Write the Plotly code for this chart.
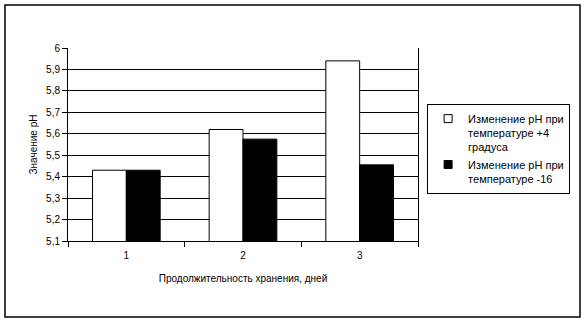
import plotly.graph_objects as go

categories = ["1", "2", "3"]
ph_plus4 = [5.43, 5.62, 5.94]
ph_minus16 = [5.43, 5.575, 5.455]
series_names = ["Изменение pH при<br>температуре +4<br>градуса", "Изменение pH при<br>температуре -16"]
series_fill = ["white", "black"]
x_title = "Продолжительность хранения, дней"
y_title = "Значение pH"

FONT = "Liberation Sans, Arial, sans-serif"

fig = go.Figure()
for vals, fill in zip([ph_plus4, ph_minus16], series_fill):
    fig.add_trace(go.Bar(x=categories, y=vals, showlegend=False,
                         marker=dict(color=fill, line=dict(color="black", width=1))))
for name, fill in zip(series_names, series_fill):
    fig.add_trace(go.Scatter(x=[None], y=[None], mode="markers", name=name,
                             marker=dict(symbol="square", size=8, color=fill,
                                         line=dict(color="black", width=1))))

fig.update_layout(
    width=586, height=321,
    margin=dict(l=68, r=168, t=48, b=80),
    paper_bgcolor="white", plot_bgcolor="white",
    separators=", ",
    font=dict(family=FONT, size=10, color="black"),
    barmode="group", bargap=0.42, bargroupgap=0,
    showlegend=True,
    legend=dict(x=1.026, y=0.71, xanchor="left", yanchor="top", valign="top",
                bordercolor="black", borderwidth=1, bgcolor="white",
                font=dict(family=FONT, size=11, color="black"),
                tracegroupgap=0, itemwidth=30),
    xaxis=dict(type="category", showline=True, linecolor="black", linewidth=1,
               ticks="outside", tickson="boundaries", ticklen=5, tickcolor="black",
               showgrid=False, ticklabelstandoff=5,
               title=dict(text=x_title, font=dict(size=10), standoff=14)),
    yaxis=dict(range=[5.1, 6.0], dtick=0.1, tick0=5.1, showline=True, linecolor="black",
               linewidth=1, mirror=True, ticks="outside", ticklen=5, tickcolor="black",
               showgrid=True, gridcolor="black", gridwidth=1, zeroline=False,
               title=dict(text=y_title, font=dict(size=10), standoff=6)),
    shapes=[dict(type="rect", xref="paper", yref="paper",
                 x0=(5 - 68) / 350, x1=(580 - 68) / 350,
                 y0=(241 - 317) / 193, y1=(241 - 5) / 193,
                 line=dict(color="black", width=1.5), layer="below")],
)

fig.write_html("out.html")
